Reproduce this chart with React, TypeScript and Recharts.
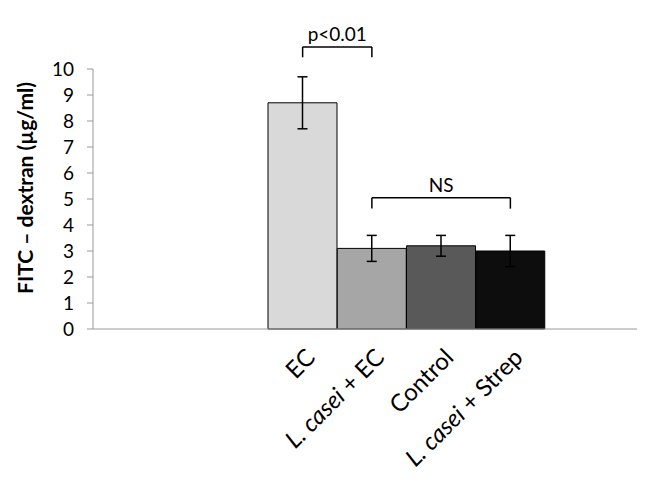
import React from "react";
import {
  Bar,
  BarChart,
  Cell,
  ErrorBar,
  ReferenceLine,
  XAxis,
  YAxis,
} from "recharts";

const categories = ["EC", "L. casei + EC", "Control", "L. casei + Strep"];
const means = [8.7, 3.1, 3.2, 3.0];
const errors = [1.0, 0.5, 0.4, 0.6];
const fills = ["#d9d9d9", "#a6a6a6", "#595959", "#0d0d0d"];
const yTicks = [0, 1, 2, 3, 4, 5, 6, 7, 8, 9, 10];

// significance brackets: from / to category, bar height, leg length, text
const brackets = [
  { from: "EC", to: "L. casei + EC", y: 10.85, leg: 0.4, text: "p<0.01" },
  { from: "L. casei + EC", to: "L. casei + Strep", y: 5.05, leg: 0.42, text: "NS" },
];

const data = categories.map((name, i) => ({
  name,
  value: means[i],
  err: errors[i],
}));

const FONT = "Lato, 'Open Sans', sans-serif";
const AXIS_COLOR = "#9a9a9a";

function CategoryTick({ x, y, payload }: any) {
  const label: string = payload.value;
  const italic = label.startsWith("L. casei") ? "L. casei" : "";
  const rest = label.slice(italic.length);
  const tx = x + 14;
  const ty = y + 22;
  return (
    <text
      x={tx}
      y={ty}
      transform={`rotate(-45 ${tx} ${ty})`}
      textAnchor="end"
      fontFamily={FONT}
      fontSize={24}
      fill="#000"
    >
      {italic && <tspan fontStyle="italic">{italic}</tspan>}
      <tspan>{rest}</tspan>
    </text>
  );
}

function YLabel({ viewBox }: any) {
  const cy = viewBox.y + viewBox.height / 2 - 11;
  return (
    <text
      x={33}
      y={cy}
      transform={`rotate(-90 33 ${cy})`}
      textAnchor="middle"
      fontFamily={FONT}
      fontSize={21}
      fontWeight="bold"
      fill="#000"
    >
      FITC – dextran (µg/ml)
    </text>
  );
}

export default function App() {
  return (
    <div style={{ position: "absolute", left: 0, top: 0, background: "#fff" }}>
      <BarChart
        width={653}
        height={492}
        data={data}
        margin={{ top: 69, right: 16, left: 0, bottom: 0 }}
        barCategoryGap={0}
      >
        <XAxis
          dataKey="name"
          height={163}
          padding={{ left: 175, right: 92 }}
          stroke={AXIS_COLOR}
          tickLine={false}
          tick={<CategoryTick />}
          interval={0}
        />
        <YAxis
          width={93}
          domain={[0, 10]}
          ticks={yTicks}
          interval={0}
          stroke={AXIS_COLOR}
          tickSize={6}
          tickMargin={13}
          tick={{ fill: "#000", fontSize: 19, fontFamily: FONT }}
          label={<YLabel />}
        />
        <Bar
          dataKey="value"
          stroke="#000"
          strokeWidth={1}
          isAnimationActive={false}
        >
          {data.map((d, i) => (
            <Cell key={d.name} fill={fills[i]} />
          ))}
          <ErrorBar
            dataKey="err"
            width={5}
            stroke="#000"
            strokeWidth={1.5}
            isAnimationActive={false}
          />
        </Bar>
        {brackets.map((b) => (
          <ReferenceLine
            key={b.text}
            segment={[
              { x: b.from, y: b.y },
              { x: b.to, y: b.y },
            ]}
            stroke="#000"
            strokeWidth={1.5}
            ifOverflow="visible"
            label={{
              value: b.text,
              position: "top",
              offset: 6,
              fill: "#000",
              fontSize: 19,
              fontFamily: FONT,
            }}
          />
        ))}
        {brackets.flatMap((b) =>
          [b.from, b.to].map((c) => (
            <ReferenceLine
              key={b.text + c}
              segment={[
                { x: c, y: b.y },
                { x: c, y: b.y - b.leg },
              ]}
              stroke="#000"
              strokeWidth={1.5}
              ifOverflow="visible"
            />
          ))
        )}
      </BarChart>
    </div>
  );
}
